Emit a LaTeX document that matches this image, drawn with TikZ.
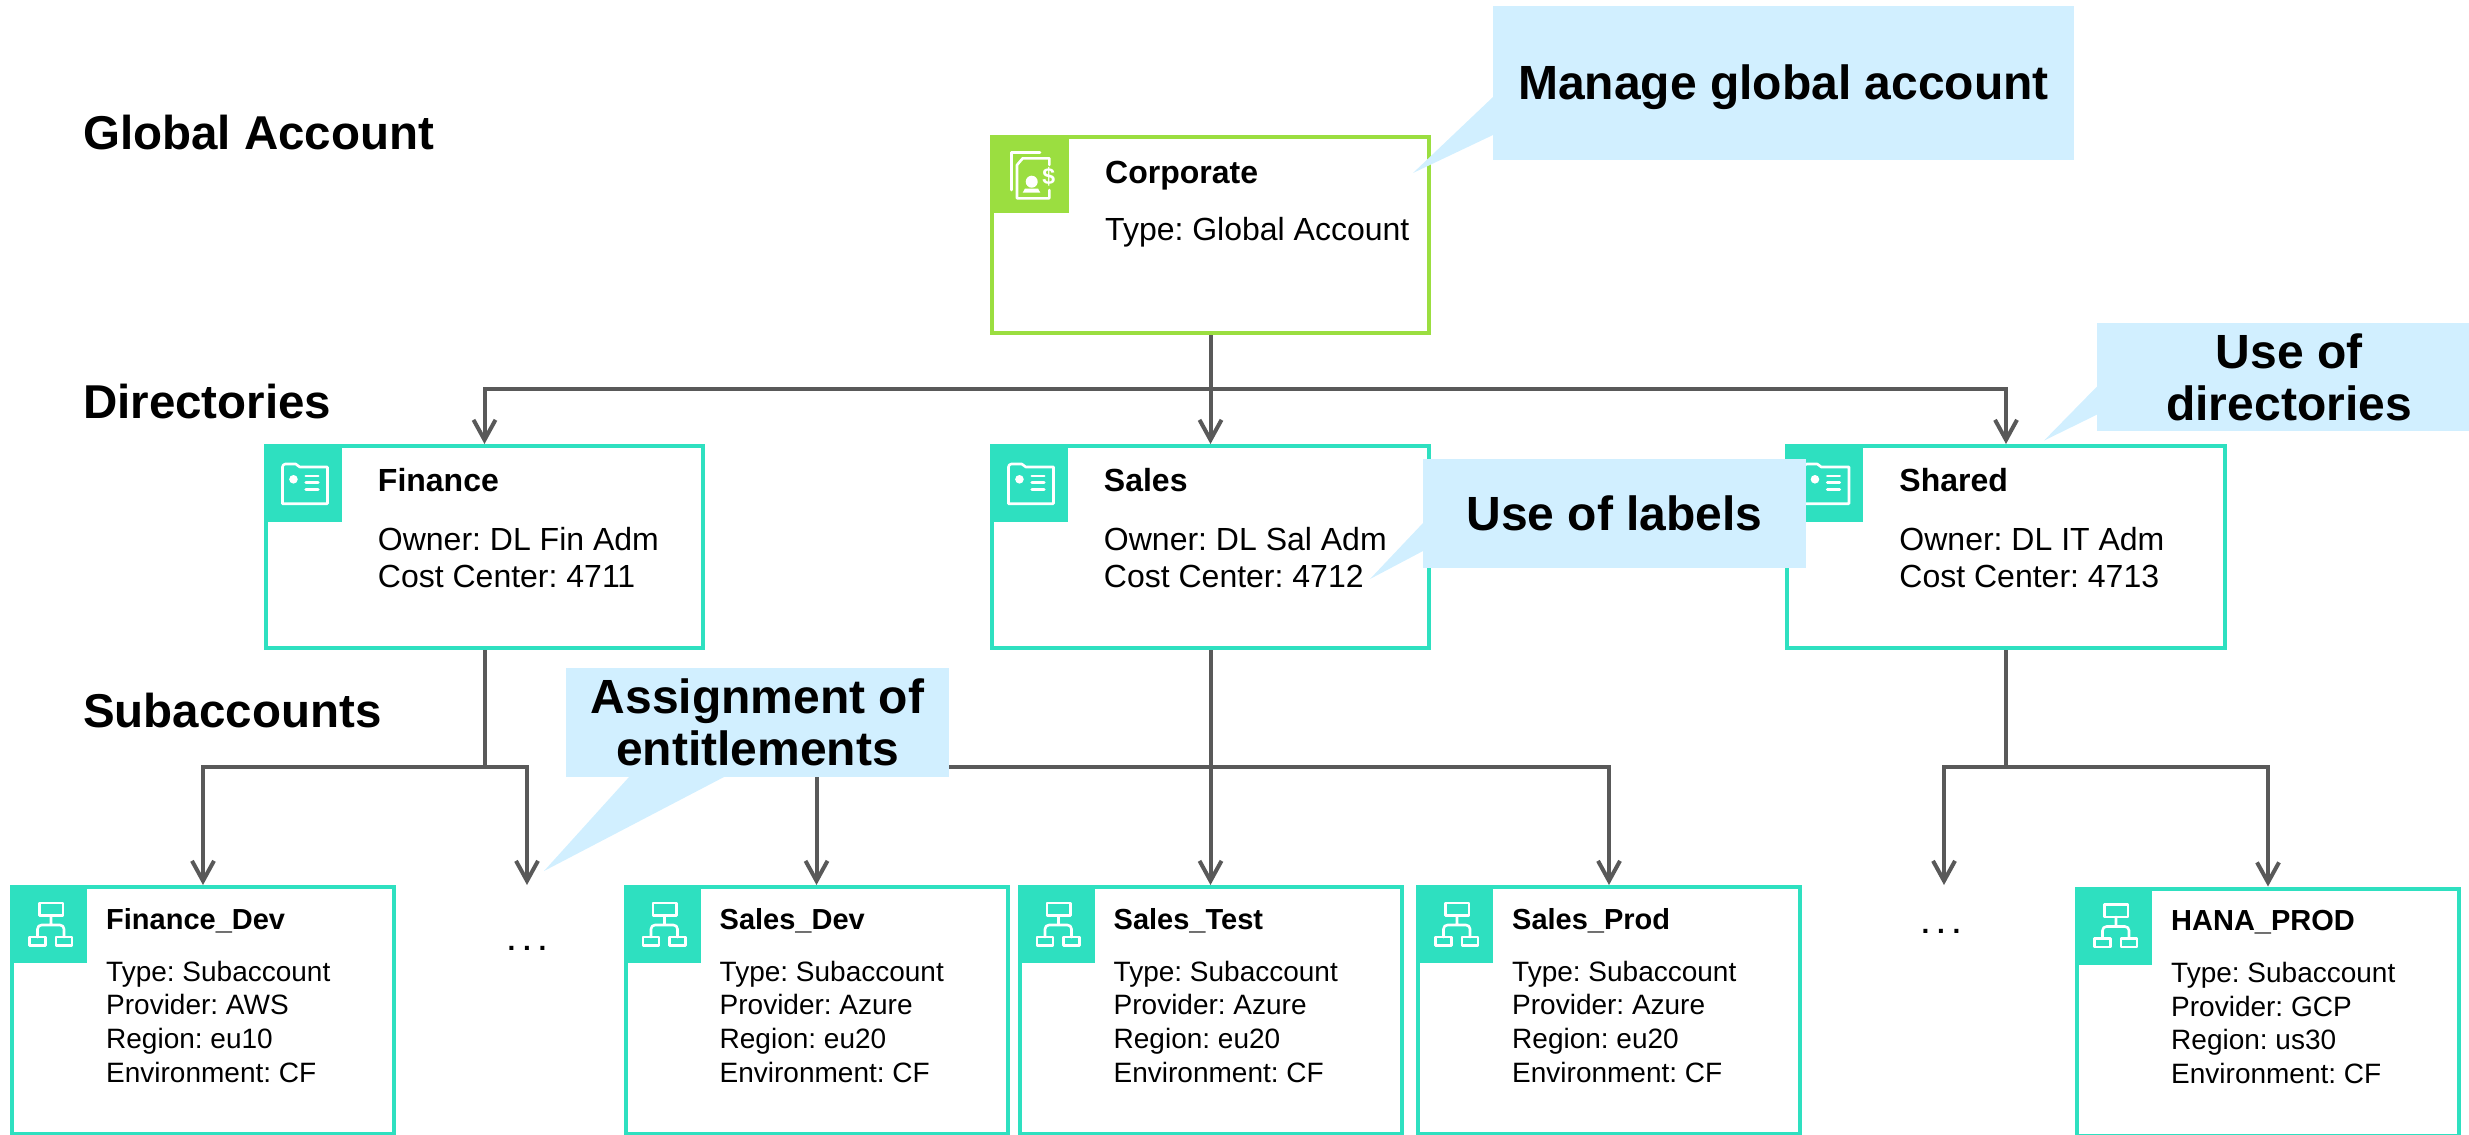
\documentclass[tikz,border=0pt]{standalone}
\usepackage{fontspec}
\setmainfont{Liberation Sans}
\frenchspacing
\usetikzlibrary{arrows.meta}
\definecolor{accgreen}{HTML}{9BDE40}
\definecolor{accteal}{HTML}{2EE0C0}
\definecolor{notefill}{HTML}{D1EFFF}
\definecolor{linkgray}{HTML}{595959}
\tikzset{
 box/.style={draw,line width=4pt,rectangle,inner sep=0pt},
 corpbox/.style={box,draw=accgreen,minimum width=437pt,minimum height=196pt},
 dirbox/.style={box,draw=accteal,minimum width=437.5pt,minimum height=202pt},
 subbox/.style={box,draw=accteal,minimum width=382pt,minimum height=247pt},
 icon/.style={draw=white,line width=2.6pt,line cap=round,line join=round},
 bigtitle/.style={anchor=base west,inner sep=0pt,font=\fontsize{32}{37}\selectfont\bfseries},
 bigtext/.style={anchor=base west,inner sep=0pt,align=left,font=\fontsize{32}{37}\selectfont},
 smalltitle/.style={anchor=base west,inner sep=0pt,font=\fontsize{29}{34}\selectfont\bfseries},
 smalltext/.style={anchor=base west,inner sep=0pt,align=left,font=\fontsize{28}{33.6}\selectfont},
 level/.style={anchor=base west,inner sep=0pt,font=\fontsize{47.5}{52}\selectfont\bfseries},
 note/.style={fill=notefill,inner sep=0pt,align=center,font=\fontsize{48}{52}\selectfont\bfseries},
 link/.style={draw=linkgray,line width=4pt},
 linkto/.style={link,-{Straight Barb[length=20pt,width=22pt,line width=4pt]}},
 moredots/.style={inner sep=0pt,anchor=base,font=\fontsize{28}{34}\selectfont\bfseries},
}
\newcommand{\corporate}[3]{%
 \node[corpbox] (#1) at (#2) {};%
 \begin{scope}[shift={(#1.north west)}]%
  \fill[accgreen] (0,0) rectangle (79,78);%
  \draw[icon] (21.7,55) -- (21.7,17.7) -- (50,17.7);%
  \draw[icon] (59.3,30) -- (59.3,23.3) -- (32.7,23.3) -- (27,30) -- (27,63.3) -- (59.3,63.3) -- (59.3,55);%
  \fill[white] (41.7,46.7) circle (6);%
  \fill[white] (32.7,57.7) -- (35,53.5) -- (48,53.5) -- (50.3,57.7) -- cycle;%
  \node[inner sep=0pt,text=white,font=\fontsize{23}{23}\selectfont\bfseries] (#1sign) at (58.7,41.7) {\$};%
  \node[bigtitle] (#1title) at (115,48) {#1};%
  \node[bigtext] (#1text) at (115,105) {#3};%
 \end{scope}%
}
\newcommand{\directory}[4]{%
 \node[dirbox] (#1) at (#2) {};%
 \begin{scope}[shift={(#1.north west)}]%
  \fill[accteal] (0,0) rectangle (78,78);%
  \draw[icon] (18.7,23) arc (180:270:3) -- (32,20) -- (36,23) -- (63.7,23) -- (63.7,59.7) -- (18.7,59.7) -- cycle;%
  \fill[white] (29.7,35.3) circle (4.3);%
  \draw[icon] (42,32) -- (54.5,32) (42,38.7) -- (54.5,38.7) (42,45.3) -- (54.5,45.3);%
  \node[bigtitle] (#1title) at (114,47.5) {#3};%
  \node[bigtext] (#1text) at (114,143.5) {#4};%
 \end{scope}%
}
\newcommand{\subaccount}[4]{%
 \node[subbox] (#1) at (#2) {};%
 \begin{scope}[shift={(#1.north west)}]%
  \fill[accteal] (0,0) rectangle (77,78);%
  \draw[icon] (29.5,18) rectangle (53,30.5);%
  \draw[icon] (19.5,52) rectangle (35.5,60.5);%
  \draw[icon] (46,52) rectangle (62,60.5);%
  \draw[icon] (41,30.5) -- (41,40) (27.5,52) -- (27.5,44) arc (180:270:4) -- (50,40) arc (270:360:4) -- (54,52);%
  \node[smalltitle] (#1title) at (96,44) {#3};%
  \node[smalltext] (#1text) at (96,197) {#4};%
 \end{scope}%
}
\begin{document}
\begin{tikzpicture}[x=1pt,y=-1pt]
  \useasboundingbox (0,0) rectangle (2469,1135);
  \clip (0,0) rectangle (2469,1135);
  \node[level] (lglobal) at (83,149) {Global Account};
  \node[level] (ldirs) at (83,418) {Directories};
  \node[level] (lsubs) at (83,727) {Subaccounts};
  \corporate{Corporate}{1210.5,235}{Type: Global Account};
  \directory{finance}{484.5,547}{Finance}{Owner: DL Fin Adm\\Cost Center: 4711};
  \directory{sales}{1210.5,547}{Sales}{Owner: DL Sal Adm\\Cost Center: 4712};
  \directory{shared}{2006,547}{Shared}{Owner: DL IT Adm\\Cost Center: 4713};
  \subaccount{findev}{203,1010.5}{Finance\_Dev}{Type: Subaccount\\Provider: AWS\\Region: eu10\\Environment: CF};
  \subaccount{salesdev}{816.5,1010.5}{Sales\_Dev}{Type: Subaccount\\Provider: Azure\\Region: eu20\\Environment: CF};
  \subaccount{salestest}{1210.5,1010.5}{Sales\_Test}{Type: Subaccount\\Provider: Azure\\Region: eu20\\Environment: CF};
  \subaccount{salesprod}{1609,1010.5}{Sales\_Prod}{Type: Subaccount\\Provider: Azure\\Region: eu20\\Environment: CF};
  \subaccount{hana}{2268,1012}{HANA\_PROD}{Type: Subaccount\\Provider: GCP\\Region: us30\\Environment: CF};
  \node[moredots] (findots) at (527,950) {. . .};
  \node[moredots] (shareddots) at (1941,933) {. . .};
  \coordinate (dirbus) at (1210.5,389);
  \coordinate (finbus) at (484.5,767);
  \coordinate (salesbus) at (1210.5,767);
  \coordinate (sharedbus) at (2006,767);
  \coordinate (finend) at (527,885);
  \coordinate (sharedend) at (1944,885);
  \draw[link] (Corporate.south) -- (dirbus);
  \draw[linkto] (dirbus) -| (finance.north);
  \draw[linkto] (dirbus) -- (sales.north);
  \draw[linkto] (dirbus) -| (shared.north);
  \draw[link] (finance.south) -- (finbus);
  \draw[linkto] (finbus) -| (findev.north);
  \draw[linkto] (finbus) -| (finend);
  \draw[link] (sales.south) -- (salesbus);
  \draw[linkto] (salesbus) -| (salesdev.north);
  \draw[linkto] (salesbus) -- (salestest.north);
  \draw[linkto] (salesbus) -| (salesprod.north);
  \draw[link] (shared.south) -- (sharedbus);
  \draw[linkto] (sharedbus) -| (sharedend);
  \draw[linkto] (sharedbus) -| (hana.north);
  \fill[notefill] (1493,97) -- (1413,173) -- (1493,135) -- cycle;
  \node[note,minimum width=581pt,minimum height=154pt,text height=42pt,text depth=10pt] (nglobal) at (1783.5,83) {Manage global account};
  \fill[notefill] (2097,386.5) -- (2044,440.6) -- (2097,414.6) -- cycle;
  \node[note,minimum width=384pt,minimum height=108pt] (ndirs) at (2289,377) {Use of\\directories};
  \fill[notefill] (1423,523) -- (1370,579) -- (1423,551) -- cycle;
  \node[note,minimum width=383pt,minimum height=109pt] (nlabels) at (1614.5,513.5) {Use of labels};
  \fill[notefill] (629,777) -- (544,871) -- (724,777) -- cycle;
  \node[note,minimum width=383pt,minimum height=109pt] (nentitle) at (757.5,722.5) {Assignment of\\entitlements};
 \end{tikzpicture}
\end{document}
